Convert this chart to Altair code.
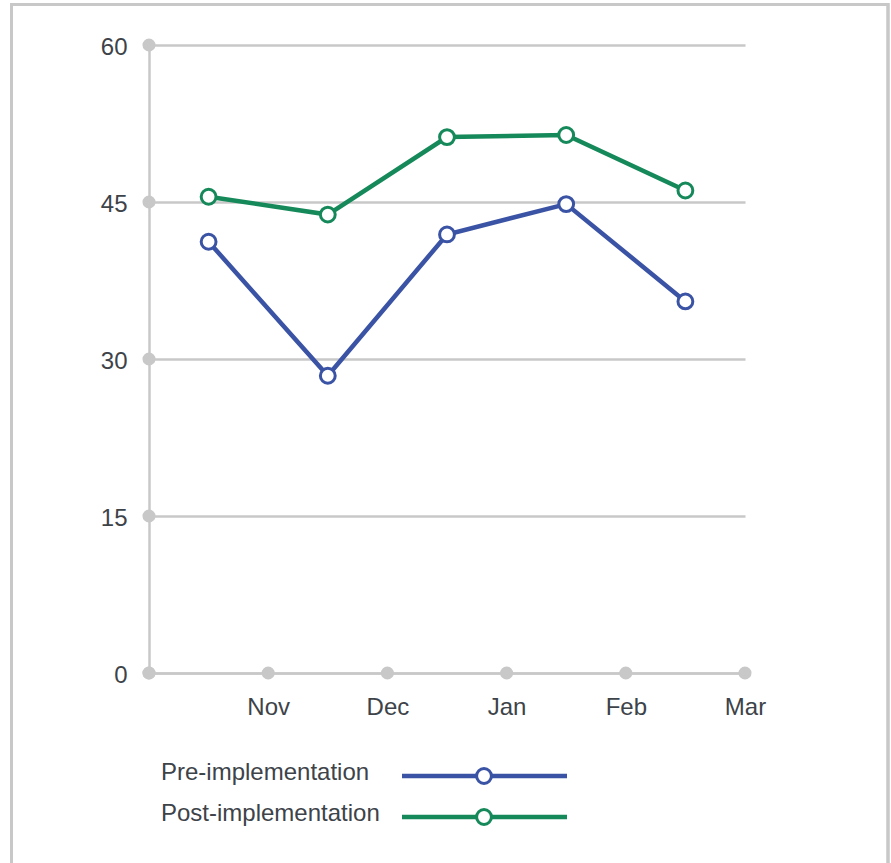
import altair as alt
import pandas as pd

# ---- data ----
periods = ["Oct", "Nov", "Dec", "Jan", "Feb"]          # points sit mid-period
pre_values = [41.2, 28.4, 41.9, 44.8, 35.5]
post_values = [45.5, 43.8, 51.2, 51.4, 46.1]
series = ["Pre-implementation", "Post-implementation"]
colors = ["#3a53a4", "#16895a"]
x_tick_labels = ["", "Nov", "Dec", "Jan", "Feb", "Mar"]
y_ticks = [0, 15, 30, 45, 60]

rows = []
for i, p in enumerate(periods):
    rows.append({"idx": i + 0.5, "period": p, "series": series[0], "value": pre_values[i]})
    rows.append({"idx": i + 0.5, "period": p, "series": series[1], "value": post_values[i]})
df = pd.DataFrame(rows)

xticks_df = pd.DataFrame({"t": list(range(len(x_tick_labels)))})
yticks_df = pd.DataFrame({"v": y_ticks})
legend_df = pd.DataFrame({"series": series, "row": list(range(len(series)))})

GRID = "#c8c8c8"
TEXT = "#3d4349"
FONT = "Liberation Sans"
FS = 24

label_expr = "[" + ",".join("'%s'" % s for s in x_tick_labels) + "][datum.value]"

xscale = alt.Scale(domain=[0, len(x_tick_labels) - 1], nice=False, zero=False)
yscale = alt.Scale(domain=[0, 60], nice=False)
cscale = alt.Scale(domain=series, range=colors)

x_axis = alt.Axis(values=list(range(len(x_tick_labels))), labelExpr=label_expr,
                  grid=False, ticks=False, domain=True, domainColor=GRID,
                  domainWidth=2.5, labelPadding=22, labelFontSize=FS,
                  labelFlush=False, labelOverlap=False,
                  labelColor=TEXT, labelFont=FONT, title=None)
y_axis = alt.Axis(values=y_ticks, grid=True, gridColor=GRID, gridWidth=2.5,
                  ticks=False, domain=True, domainColor=GRID, domainWidth=2.5,
                  labelPadding=22, labelFontSize=FS, labelColor=TEXT,
                  labelFlush=False, labelOverlap=False, labelOffset=2,
                  labelFont=FONT, title=None)

base = alt.Chart(df)
lines = base.mark_line(strokeWidth=4.5).encode(
    x=alt.X("idx:Q", scale=xscale, axis=x_axis),
    y=alt.Y("value:Q", scale=yscale, axis=y_axis),
    color=alt.Color("series:N", scale=cscale, legend=None),
    detail="series:N")
points = base.mark_point(shape="circle", filled=False, fill="white", fillOpacity=1,
                         size=220, strokeWidth=3, opacity=1).encode(
    x=alt.X("idx:Q", scale=xscale, axis=x_axis),
    y=alt.Y("value:Q", scale=yscale, axis=y_axis),
    stroke=alt.Stroke("series:N", scale=cscale, legend=None))

xdots = alt.Chart(xticks_df).mark_circle(size=170, color=GRID, opacity=1).encode(
    x=alt.X("t:Q", scale=xscale, axis=x_axis), y=alt.datum(0))
ydots = alt.Chart(yticks_df).mark_circle(size=170, color=GRID, opacity=1).encode(
    x=alt.datum(0), y=alt.Y("v:Q", scale=yscale, axis=y_axis))

main = alt.layer(lines, xdots, ydots, points)

# ---- manual legend below the plot ----
ly = alt.Y("row:Q", scale=alt.Scale(domain=[0, len(series) - 1], range=[731, 772],
                                     nice=False, zero=False), axis=None)
leg_text = alt.Chart(legend_df).mark_text(align="left", baseline="middle", fontSize=FS,
                                          font=FONT, color=TEXT, dy=-3).encode(
    x=alt.value(12), y=ly, text="series:N")
leg_line = alt.Chart(legend_df).mark_rule(strokeWidth=4.5).encode(
    x=alt.value(253), x2=alt.value(418), y=ly,
    color=alt.Color("series:N", scale=cscale, legend=None))
leg_pt = alt.Chart(legend_df).mark_point(shape="circle", filled=False, fill="white",
                                         fillOpacity=1, size=220, strokeWidth=3,
                                         opacity=1).encode(
    x=alt.value(335), y=ly,
    stroke=alt.Stroke("series:N", scale=cscale, legend=None))
legend = alt.layer(leg_line, leg_pt, leg_text)

border = alt.Chart(legend_df).mark_rect(fill=None, stroke=GRID, strokeWidth=3).encode(
    x=alt.value(-137.5), x2=alt.value(739), y=alt.value(-40.5), y2=alt.value(900))

chart = alt.layer(border, main, legend).resolve_scale(y="independent").properties(
    width=596, height=628,
    background="white",
    autosize=alt.AutoSizeParams(type="none"),
    padding={"left": 149, "top": 45, "right": 146, "bottom": 190},
).configure_view(stroke=None)

chart.save("out.html", embed_options={"renderer": "svg", "actions": False})
